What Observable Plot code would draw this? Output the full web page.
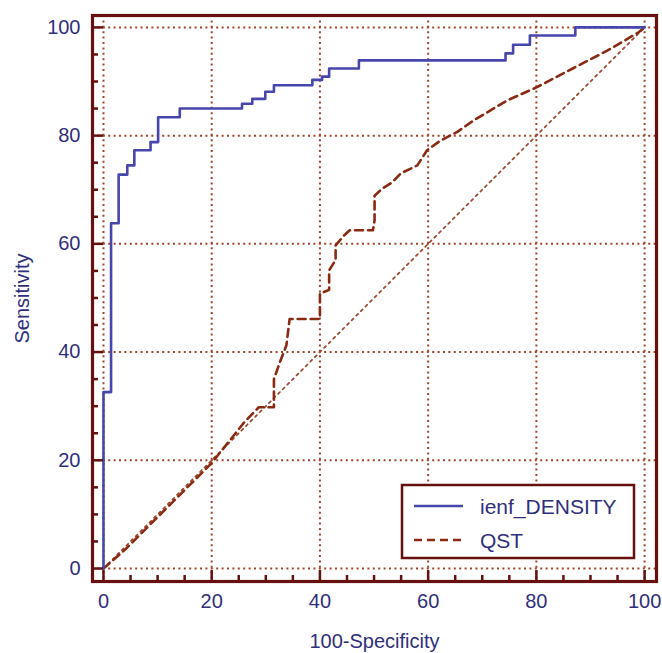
<!DOCTYPE html>
<html>
<head>
<meta charset="utf-8">
<script src="https://cdn.jsdelivr.net/npm/d3@7"></script>
<script src="https://cdn.jsdelivr.net/npm/@observablehq/plot@0.6"></script>
<style>
  html, body { margin: 0; padding: 0; background: white; }
  #wrap { position: relative; width: 662px; height: 653px; overflow: hidden; }
  #legend { position: absolute; left: 0; top: 0; }
</style>
</head>
<body>
<div id="wrap"></div>
<script>
// ---- data ----
const seriesNames = ["ienf_DENSITY", "QST"];
// ienf_DENSITY ROC vertices (100-Specificity, Sensitivity)
const ienfX = [0, 0, 1.4, 2.8, 4.4, 5.7, 8.7, 10.1, 14.1, 25.6, 27.5, 29.9, 31.5, 38.6, 40.4, 41.7, 47.2, 74.3, 75.7, 78.8, 87.2, 100];
const ienfY = [0, 32.6, 63.8, 72.8, 74.5, 77.3, 78.8, 83.4, 85, 85.9, 86.8, 88.1, 89.3, 90.3, 90.9, 92.4, 93.9, 95.2, 96.8, 98.5, 100, 100];
// QST ROC vertices
const qstX = [0, 4, 8, 12, 16, 20, 24, 26, 28.7, 31.5, 31.5, 32.7, 33.8, 34.4, 40, 40, 41.7, 41.7, 42.9, 42.9, 44.4, 45.5, 49.8, 50.1, 50.1, 51.5, 53.4, 54.9, 58, 59.8, 62.3, 65.4, 68.4, 74.6, 80.2, 86.9, 93.1, 98.9, 100];
const qstY = [0, 3.5, 7.5, 11.5, 15.5, 19.5, 24.5, 27, 29.8, 29.8, 35, 38.4, 41.2, 46.1, 46.1, 50.8, 51.5, 55.1, 57, 59.7, 61.5, 62.5, 62.5, 64.3, 68.9, 70.2, 71.4, 73, 74.5, 77.3, 79.1, 80.7, 82.8, 86.5, 89, 92.5, 95.7, 99.1, 100];
// diagonal reference line
const refX = [0, 100];
const refY = [0, 100];
// ticks
const majorTicks = [0, 20, 40, 60, 80, 100];
const minorTicks = [5, 10, 15, 25, 30, 35, 45, 50, 55, 65, 70, 75, 85, 90, 95];

// ---- layout / styles ----
const W = 662, H = 653;
const mL = 92, mR = 6, mT = 15, mB = 72;
const xDom = [-2.03, 102.2];
const yDom = [-2.4, 102.2];
const xUnit = (xDom[1] - xDom[0]) / (W - mL - mR); // data units per pixel
const yUnit = (yDom[1] - yDom[0]) / (H - mT - mB);
const majorLen = 11, minorLen = 6;

const frameColor = "#661010";
const gridColor = "#a0442a";
const blue = "#4646ad";
const qstColor = "#8a2a12";
const textColor = "#2f2f7c";
const font = "'Liberation Sans', Arial, Helvetica, sans-serif";

const ienf = ienfX.map((x, i) => ({x, y: ienfY[i]}));
const qst = qstX.map((x, i) => ({x, y: qstY[i]}));
const ref = refX.map((x, i) => ({x, y: refY[i]}));

const tickStyle = {stroke: frameColor, strokeWidth: 2.5};

const chart = Plot.plot({
  width: W,
  height: H,
  marginLeft: mL,
  marginRight: mR,
  marginTop: mT,
  marginBottom: mB,
  x: {domain: xDom, label: null},
  y: {domain: yDom, label: null},
  style: {fontFamily: font, background: "white"},
  marks: [
    Plot.ruleX(majorTicks, {stroke: gridColor, strokeWidth: 2, strokeDasharray: "2,3.4"}),
    Plot.ruleY(majorTicks, {stroke: gridColor, strokeWidth: 2, strokeDasharray: "2,3.4"}),
    Plot.line(ref, {x: "x", y: "y", stroke: gridColor, strokeWidth: 1.7, strokeDasharray: "2.5,4"}),
    Plot.line(qst, {x: "x", y: "y", stroke: qstColor, strokeWidth: 2.6, strokeDasharray: "8,5"}),
    Plot.line(ienf, {x: "x", y: "y", curve: "step-after", stroke: blue, strokeWidth: 2.6}),
    // inward ticks on the bottom and left frame edges
    Plot.ruleX(majorTicks, {x: d => d, y1: yDom[0], y2: yDom[0] + majorLen * yUnit, ...tickStyle}),
    Plot.ruleX(minorTicks, {x: d => d, y1: yDom[0], y2: yDom[0] + minorLen * yUnit, ...tickStyle}),
    Plot.ruleY(majorTicks, {y: d => d, x1: xDom[0], x2: xDom[0] + majorLen * xUnit, ...tickStyle}),
    Plot.ruleY(minorTicks, {y: d => d, x1: xDom[0], x2: xDom[0] + minorLen * xUnit, ...tickStyle}),
    Plot.axisX(majorTicks, {tickSize: 0, tickPadding: 12, fill: textColor, fontSize: 20,
      label: "100-Specificity", labelAnchor: "center", labelOffset: 66, labelArrow: "none"}),
    Plot.axisY(majorTicks, {tickSize: 0, tickPadding: 12, fill: textColor, fontSize: 20,
      label: "Sensitivity", labelAnchor: "center", labelOffset: 78, labelArrow: "none"}),
    Plot.frame({stroke: frameColor, strokeWidth: 3.2})
  ]
});

const wrap = document.getElementById("wrap");
wrap.appendChild(chart);

// ---- legend (inside the plot frame, bottom right) ----
const legend = d3.select(wrap).append("svg")
  .attr("id", "legend")
  .attr("width", W).attr("height", H)
  .style("pointer-events", "none");
const box = legend.append("g");
box.append("rect")
  .attr("x", 402).attr("y", 485).attr("width", 232).attr("height", 73)
  .attr("fill", "white").attr("stroke", frameColor).attr("stroke-width", 2.5);
const items = [
  {name: seriesNames[0], color: blue, dash: null},
  {name: seriesNames[1], color: qstColor, dash: "8,5"}
];
items.forEach((d, i) => {
  const cy = 506 + i * 34;
  box.append("line")
    .attr("x1", 414).attr("x2", 463).attr("y1", cy).attr("y2", cy)
    .attr("stroke", d.color).attr("stroke-width", 2.6)
    .attr("stroke-dasharray", d.dash);
  box.append("text")
    .attr("x", 480).attr("y", cy).attr("dy", "0.36em")
    .attr("fill", textColor).attr("font-family", font).attr("font-size", 21)
    .text(d.name);
});
</script>
</body>
</html>
